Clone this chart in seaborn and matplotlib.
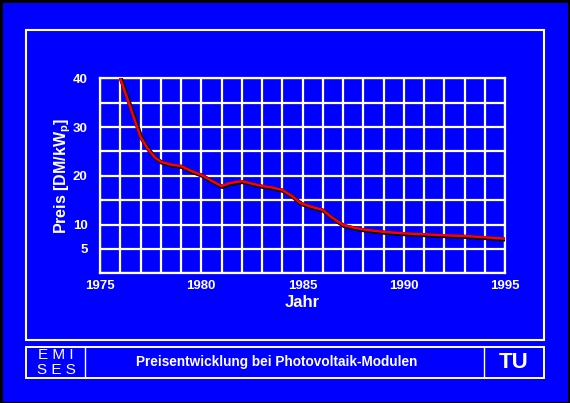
import matplotlib
matplotlib.use("Agg")
import matplotlib.pyplot as plt
import matplotlib.patheffects as pe
from matplotlib.patches import Rectangle
from matplotlib.lines import Line2D
import seaborn as sns
import pandas as pd

years = [1976, 1976.4, 1977, 1977.35, 1977.7, 1978, 1978.5, 1979, 1979.5, 1980,
         1980.5, 1981, 1981.4, 1982, 1982.5, 1983, 1983.5, 1984, 1984.5, 1984.9,
         1985.4, 1986, 1986.4, 1987, 1987.5, 1988, 1989, 1990, 1991, 1992, 1993,
         1994, 1995]
prices = [40, 35.2, 28, 25.6, 23.8, 22.9, 22.3, 22, 21, 20.2,
          19.0, 17.9, 18.5, 18.9, 18.4, 17.9, 17.6, 17.1, 15.8, 14.4,
          13.7, 13.0, 11.6, 9.9, 9.4, 9.0, 8.5, 8.2, 8.0, 7.8, 7.65,
          7.4, 7.1]
x_ticks = [1975, 1980, 1985, 1990, 1995]
y_ticks = [5, 10, 20, 30, 40]
x_grid = list(range(1975, 1996))
y_grid = [0, 5, 10, 15, 20, 25, 30, 35, 40]

BLUE = "#0000FF"
W, H = 570, 403

sns.set_style("white")
plt.rcParams["font.family"] = ["Liberation Sans", "DejaVu Sans"]

fig = plt.figure(figsize=(W / 100, H / 100), dpi=100, facecolor=BLUE)

def px(x, y):
    return x / W, 1 - y / H

def rect(x0, y0, x1, y1, lw):
    fx, fy = px(x0, y1)
    fig.add_artist(Rectangle((fx, fy), (x1 - x0) / W, (y1 - y0) / H,
                             transform=fig.transFigure, fill=False,
                             edgecolor="white", linewidth=lw))

def vline(x, y0, y1, lw):
    a, b = px(x, y0)
    c, d = px(x, y1)
    fig.add_artist(Line2D([a, c], [b, d], transform=fig.transFigure,
                          color="white", linewidth=lw))

# black outer border
fig.add_artist(Rectangle((0.001, 0.001), 0.998, 0.997, transform=fig.transFigure,
                         fill=False, edgecolor="black", linewidth=2.2))

rect(26, 30, 544, 340, 1.5)
rect(26, 347, 544, 377.5, 1.4)
vline(85.3, 347, 377.5, 1.0)
vline(484.3, 347, 377.5, 1.0)

l, r, b, t = px(100, 0)[0], px(505, 0)[0], px(0, 273.3)[1], px(0, 78.3)[1]
ax = fig.add_axes([l, b, r - l, t - b])
ax.set_facecolor(BLUE)

df = pd.DataFrame({"Jahr": years, "Preis": prices})
sns.lineplot(data=df, x="Jahr", y="Preis", ax=ax, color="#FF0000", linewidth=1.8,
             path_effects=[pe.Stroke(linewidth=3.0, foreground="black", offset=(0.6, -0.6)),
                           pe.Normal()], zorder=5)

ax.set_xlim(1975, 1995)
ax.set_ylim(0, 40)
ax.set_xticks(x_grid, minor=True)
ax.set_yticks(y_grid, minor=True)
ax.set_xticks(x_ticks)
ax.set_yticks(y_ticks)
ax.grid(True, which="both", color="white", linewidth=1.6)
for s in ax.spines.values():
    s.set_color("white")
    s.set_linewidth(1.6)
ax.tick_params(axis="both", which="both", colors="white")
ax.tick_params(axis="y", which="both", length=3, width=1.6, pad=6)
ax.tick_params(axis="x", which="both", length=0, pad=5)
for lab in ax.get_xticklabels() + ax.get_yticklabels():
    lab.set_fontweight("bold")
    lab.set_fontsize(9.5)
    lab.set_color("white")

ax.set_xlabel("Jahr", color="white", fontsize=12, fontweight="bold", labelpad=2)
ax.set_ylabel("Preis [DM/kW$_\\mathregular{p}$]", color="white", fontsize=11.5,
              fontweight="bold", labelpad=0)

fig.text(*px(56, 355), "E M I", color="white", fontsize=11, ha="center", va="center",
         fontstretch="condensed")
fig.text(*px(56, 370), "S E S", color="white", fontsize=11, ha="center", va="center",
         fontstretch="condensed")
fig.text(*px(277, 362), "Preisentwicklung bei Photovoltaik-Modulen", color="white",
         fontsize=9.8, fontweight="bold", ha="center", va="center")
fig.text(*px(514, 362), "TU", color="white", fontsize=16, fontweight="bold",
         ha="center", va="center")

fig.savefig("out.png", dpi=100, facecolor=BLUE)
